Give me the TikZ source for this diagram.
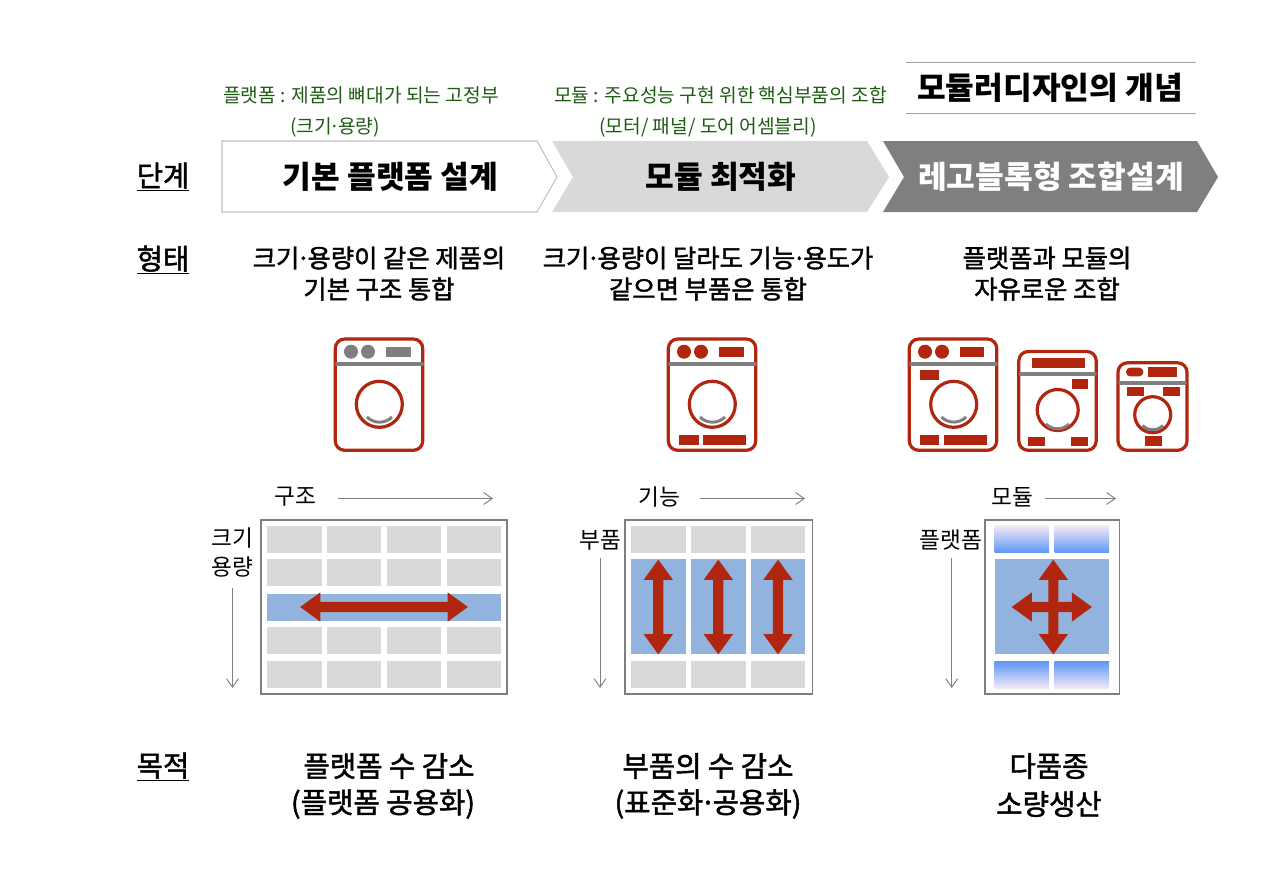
\documentclass[tikz,border=0pt]{standalone}
\usepackage{fontspec}
\setmainfont{Noto Sans CJK KR}
\newfontfamily\medfont[FakeBold=1.6]{Noto Sans CJK KR}
\newcommand{\mdot}{\kern-0.12em·\kern-0.12em}
\usetikzlibrary{arrows.meta,shapes.arrows}
\definecolor{wred}{HTML}{B0260F}
\definecolor{wblue}{HTML}{93B3DF}
\definecolor{wgray}{HTML}{7F7F7F}
\definecolor{cellgray}{HTML}{D9D9D9}
\definecolor{notegreen}{HTML}{1E5C14}
\definecolor{fadetop}{HTML}{F5E8F5}
\definecolor{fademid}{HTML}{A6C6F2}
\definecolor{fadebot}{HTML}{5B97F5}
\tikzstyle{note}=[inner sep=0pt,text=notegreen,font=\fontsize{14.4}{17}\selectfont]
\tikzstyle{stage}=[inner sep=0pt,font=\fontsize{23.4}{28}\bfseries\selectfont]
\tikzstyle{rowhead}=[inner sep=0pt,font=\fontsize{21.5}{26}\medfont\selectfont]
\tikzstyle{shapetext}=[inner sep=0pt,font=\fontsize{19}{24}\medfont\selectfont]
\tikzstyle{goaltext}=[inner sep=0pt,font=\fontsize{21.5}{26}\medfont\selectfont]
\tikzstyle{axistext}=[inner sep=0pt,font=\fontsize{17}{21}\selectfont]
\tikzstyle{axis}=[draw=wgray,line width=0.7pt,-{Straight Barb[length=6.5pt,width=9pt]}]
\tikzstyle{frame}=[draw=wgray,line width=1.1pt,fill=white]
\tikzstyle{cell}=[fill=cellgray]
\tikzstyle{band}=[fill=wblue]
\tikzstyle{fade}=[top color=fadetop,middle color=fademid,bottom color=fadebot]
\tikzstyle{redarrow}=[double arrow,fill=wred,inner xsep=0pt,inner ysep=3.6pt,minimum width=21.6pt,
double arrow head extend=7.2pt,double arrow tip angle=72]
\tikzstyle{body}=[draw=wred,line width=2.4pt,rounded corners=7pt,fill=white]
\tikzstyle{ring}=[draw=wred,line width=2.4pt]
\tikzstyle{bar}=[draw=wgray,line width=2.8pt,line cap=round]
\tikzstyle{tray}=[draw=wgray,line width=2.2pt]
\begin{document}
\begin{tikzpicture}[x=0.75pt,y=-0.75pt]
            \useasboundingbox (0,0) rectangle (1280,882);

            % TITLE PART

            \coordinate (tl1) at (906,62);
            \coordinate (tr1) at (1196,62);
            \coordinate (tl2) at (906,113);
            \coordinate (tr2) at (1196,113);
            \draw[draw=wgray!70,line width=0.7pt] (tl1) -- (tr1);
            \draw[draw=wgray!70,line width=0.7pt] (tl2) -- (tr2);
            \node[stage] (title) at (1050,88) {모듈러디자인의 개념};

            \node[note] (n1) at (361,95) {플랫폼 : 제품의 뼈대가 되는 고정부};
            \node[note] (n2) at (335,127) {(크기\mdot 용량)};
            \node[note] (n3) at (720.5,95) {모듈 : 주요성능 구현 위한 핵심부품의 조합};
            \node[note] (n4) at (708,127) {(모터/ 패널/ 도어 어셈블리)};

            % STAGE PART

            \draw[draw=black!25,line width=0.8pt,fill=white] (222,141) -- (537,141) -- (557,177) -- (537,212) -- (222,212) -- cycle;
            \fill[cellgray] (552,141) -- (867,141) -- (889,177) -- (867,212) -- (552,212) -- (573,177) -- cycle;
            \fill[wgray] (883,141) -- (1197,141) -- (1218,177) -- (1197,212) -- (883,212) -- (904,177) -- cycle;

            \node[stage] (s1) at (390.5,177) {기본 플랫폼 설계};
            \node[stage] (s2) at (721,177) {모듈 최적화};
            \node[stage,text=white] (s3) at (1051,177) {레고블록형 조합설계};

            \node[rowhead] (h1) at (163,177) {\underline{단계}};
            \node[rowhead] (h2) at (163,260) {\underline{형태}};
            \node[rowhead] (h3) at (163,767) {\underline{목적}};

            % SHAPE TEXT PART

            \node[shapetext] (a1) at (379,258) {크기\mdot 용량이 같은 제품의};
            \node[shapetext] (a2) at (379,289) {기본 구조 통합};
            \node[shapetext] (b1) at (708,258) {크기\mdot 용량이 달라도 기능\mdot 용도가};
            \node[shapetext] (b2) at (708,289) {같으면 부품은 통합};
            \node[shapetext] (c1) at (1047,258) {플랫폼과 모듈의};
            \node[shapetext] (c2) at (1047,289) {자유로운 조합};

            % WASHER 1

            \draw[body] (335.3,339) rectangle (422.7,450.3);
            \fill[wgray] (351,351.7) circle[radius=7];
            \fill[wgray] (368,351.7) circle[radius=7];
            \fill[wgray] (386,347) rectangle (411,357);
            \draw[bar] (337,364) -- (422,364);
            \draw[ring] (379.3,404.3) circle[radius=23];
            \draw[tray] (367,417) to[bend right=45] (392,417);

            % WASHER 2

            \draw[body] (668.3,339) rectangle (755.7,450.3);
            \fill[wred] (684,351.7) circle[radius=7];
            \fill[wred] (701,351.7) circle[radius=7];
            \fill[wred] (719,347) rectangle (744,357);
            \draw[bar] (670,364) -- (755,364);
            \draw[ring] (712.3,404.3) circle[radius=23];
            \draw[tray] (700,417) to[bend right=45] (725,417);
            \fill[wred] (679,435) rectangle (698.5,445);
            \fill[wred] (703,435) rectangle (746,445);

            % WASHER 3

            \draw[body] (909.3,339) rectangle (996.7,450.3);
            \fill[wred] (925,351.7) circle[radius=7];
            \fill[wred] (942,351.7) circle[radius=7];
            \fill[wred] (959.7,347) rectangle (984.3,357);
            \draw[bar] (911,364) -- (996,364);
            \fill[wred] (919.7,370) rectangle (939.3,380);
            \draw[ring] (953.7,404.3) circle[radius=23];
            \draw[tray] (941.5,417) to[bend right=45] (966,417);
            \fill[wred] (919.7,435) rectangle (939.3,445);
            \fill[wred] (944.3,435) rectangle (987.3,445);

            % WASHER 4

            \draw[body] (1018.8,351.5) rectangle (1096.2,450.3);
            \fill[wred] (1032,358.3) rectangle (1085,367.7);
            \draw[bar] (1020.5,374) -- (1095,374);
            \fill[wred] (1071.7,379) rectangle (1087.7,388.7);
            \draw[ring] (1057.7,410) circle[radius=20.5];
            \draw[tray] (1046,424) to[bend right=45] (1069,424);
            \fill[wred] (1028,436.7) rectangle (1045,446);
            \fill[wred] (1070.7,436.7) rectangle (1087.7,446);

            % WASHER 5

            \draw[body] (1118,362.8) rectangle (1187,450.3);
            \fill[wred,rounded corners=3pt] (1126,367.7) rectangle (1143.3,376.3);
            \fill[wred] (1148,367.3) rectangle (1176.7,376.7);
            \draw[bar] (1120,382.7) -- (1185,382.7);
            \fill[wred] (1127.3,387) rectangle (1143.7,396.3);
            \fill[wred] (1163.3,387) rectangle (1180,396.3);
            \draw[ring] (1152.7,414.7) circle[radius=18];
            \draw[tray] (1142.5,425.5) to[bend right=45] (1163,425.5);
            \fill[wred] (1145.3,436) rectangle (1161.7,446);

            % GRID 1

            \draw[frame] (261,520) rectangle (507,694);
            \foreach \x in {267.3,327,386.8,446.6}
              \foreach \y in {525.7,559.3,627.3,661.3}
                \fill[cell] (\x,\y) rectangle ++(54.3,27);
            \fill[band] (267.3,593.7) rectangle (501,620.5);
            \node[redarrow,minimum height=125.8pt] (ra1) at (384,607) {};

            \node[axistext] (g1x) at (295,497) {구조};
            \node[axistext] (g1y1) at (232,538) {크기};
            \node[axistext] (g1y2) at (232,567) {용량};
            \coordinate (g1a) at (338,498.5);
            \coordinate (g1b) at (493,498.5);
            \coordinate (g1c) at (232.5,588);
            \coordinate (g1d) at (232.5,688);
            \draw[axis] (g1a) -- (g1b);
            \draw[axis] (g1c) -- (g1d);

            % GRID 2

            \draw[frame] (625,520) rectangle (812.3,694);
            \foreach \x in {631.3,691.3,751}
              \foreach \y in {525.7,661.3}
                \fill[cell] (\x,\y) rectangle ++(54.3,27);
            \foreach \x in {631.3,691.3,751}
              \fill[band] (\x,559.3) rectangle ++(54.3,95);
            \node[redarrow,rotate=90,minimum height=71pt] (ra2) at (658.3,607) {};
            \node[redarrow,rotate=90,minimum height=71pt] (ra3) at (718.3,607) {};
            \node[redarrow,rotate=90,minimum height=71pt] (ra4) at (778,607) {};

            \node[axistext] (g2x) at (659,497) {기능};
            \node[axistext] (g2y) at (600,540) {부품};
            \coordinate (g2a) at (700,498.5);
            \coordinate (g2b) at (805,498.5);
            \coordinate (g2c) at (600,558);
            \coordinate (g2d) at (600,688);
            \draw[axis] (g2a) -- (g2b);
            \draw[axis] (g2c) -- (g2d);

            % GRID 3

            \draw[frame] (985,520) rectangle (1119.3,694);
            \foreach \x in {994.7,1054.7}
              \shade[fade] (\x,525.7) rectangle ++(54.3,27);
            \foreach \x in {994.7,1054.7}
              \shade[fade,shading angle=180] (\x,661.3) rectangle ++(54.3,27);
            \fill[band] (994.7,559.3) rectangle (1109,654.3);
            \node[redarrow,rotate=90,minimum height=71pt] (ra5) at (1053.3,607) {};
            \node[redarrow,minimum height=60.2pt] (ra6) at (1051.8,607) {};

            \node[axistext] (g3x) at (1012,497) {모듈};
            \node[axistext] (g3y) at (951,540) {플랫폼};
            \coordinate (g3a) at (1045,498.5);
            \coordinate (g3b) at (1116,498.5);
            \coordinate (g3c) at (951.7,558);
            \coordinate (g3d) at (951.7,688);
            \draw[axis] (g3a) -- (g3b);
            \draw[axis] (g3c) -- (g3d);

            % GOAL PART

            \node[goaltext] (d1) at (389,766) {플랫폼 수 감소};
            \node[goaltext] (d2) at (383,804) {(플랫폼 공용화)};
            \node[goaltext] (e1) at (708,766) {부품의 수 감소};
            \node[goaltext] (e2) at (708,804) {(표준화\mdot 공용화)};
            \node[goaltext] (f1) at (1049,766) {다품종};
            \node[goaltext] (f2) at (1049,804) {소량생산};

        \end{tikzpicture}
\end{document}
